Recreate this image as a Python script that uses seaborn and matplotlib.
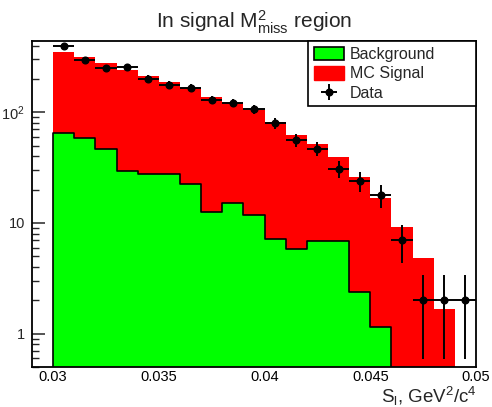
import numpy as np
import matplotlib
matplotlib.use("Agg")
import matplotlib.pyplot as plt
import seaborn as sns
from matplotlib.patches import Patch
from matplotlib.ticker import FixedLocator, FixedFormatter, LogLocator, NullFormatter

# ---- data ----
bin_edges = [0.030, 0.031, 0.032, 0.033, 0.034, 0.035, 0.036, 0.037, 0.038, 0.039, 0.040,
             0.041, 0.042, 0.043, 0.044, 0.045, 0.046, 0.047, 0.048, 0.049, 0.050]
bin_centers = [0.0305, 0.0315, 0.0325, 0.0335, 0.0345, 0.0355, 0.0365, 0.0375, 0.0385, 0.0395,
               0.0405, 0.0415, 0.0425, 0.0435, 0.0445, 0.0455, 0.0465, 0.0475, 0.0485, 0.0495]
# MC signal stacked on top of background (top of red histogram)
mc_signal_stacked = [347, 315, 278, 239, 211, 188, 167, 137, 121, 105,
                     81, 62, 51.5, 39.6, 25.8, 16.7, 9.1, 4.8, 1.67, 0]
background = [65.6, 58.7, 47, 29.6, 27.5, 27.8, 22.3, 12.6, 15, 11.7,
              7.2, 5.8, 6.9, 6.8, 2.4, 1.15, 0, 0, 0, 0]
data_counts = [393, 298, 251, 254, 201, 178, 167, 130, 122, 106,
               80, 56, 47, 31, 24, 18, 7, 2, 2, 2]
legend_labels = ["Background", "MC Signal", "Data"]
x_ticks = [0.03, 0.035, 0.04, 0.045, 0.05]
x_ticklabels = ["0.03", "0.035", "0.04", "0.045", "0.05"]
y_ticks = [1, 10, 100]
y_ticklabels = ["1", "10", "10$^\\mathregular{2}$"]

# ---- style ----
sns.set_style("white")
plt.rcParams["font.family"] = ["Liberation Sans", "DejaVu Sans"]
plt.rcParams["mathtext.fontset"] = "custom"
plt.rcParams["mathtext.rm"] = "Liberation Sans"
plt.rcParams["mathtext.it"] = "Liberation Sans:italic"
plt.rcParams["mathtext.bf"] = "Liberation Sans:bold"

fig = plt.figure(figsize=(4.92, 4.07), dpi=100)
ax = fig.add_axes([32 / 492, 1 - 367 / 407, 444 / 492, 326 / 407])

sns.histplot(x=bin_centers, weights=mc_signal_stacked, bins=bin_edges, element="step",
             fill=True, color="#ff0000", alpha=1, linewidth=0, ax=ax, zorder=1)
sns.histplot(x=bin_centers, weights=background, bins=bin_edges, element="step",
             fill=True, facecolor="#00ff00", edgecolor="black", alpha=1, linewidth=1.2,
             ax=ax, zorder=2)

yerr = np.sqrt(np.array(data_counts, dtype=float))
eb = ax.errorbar(bin_centers, data_counts, xerr=0.0005, yerr=yerr, fmt="o", color="black",
                 markersize=4.8, elinewidth=1.4, capsize=0, zorder=5)

ax.set_yscale("log")
ax.set_xlim(0.029, 0.050)
ax.set_ylim(0.5, 440)
ax.set_ylabel("")
ax.set_xlabel("")

ax.xaxis.set_major_locator(FixedLocator(x_ticks))
ax.xaxis.set_major_formatter(FixedFormatter(x_ticklabels))
ax.yaxis.set_major_locator(FixedLocator(y_ticks))
ax.yaxis.set_major_formatter(FixedFormatter(y_ticklabels))
ax.yaxis.set_minor_locator(LogLocator(base=10, subs=np.arange(2, 10) * 1.0))
ax.yaxis.set_minor_formatter(NullFormatter())

ax.tick_params(axis="x", which="both", length=0, labelsize=10.5, pad=2, colors="black")
ax.tick_params(axis="y", which="major", direction="in", length=9, width=1.1,
               labelsize=10.5, pad=5, left=True, right=False)
ax.tick_params(axis="y", which="minor", direction="in", length=5, width=1.0,
               left=True, right=False)

for sp in ax.spines.values():
    sp.set_color("black")
    sp.set_linewidth(1.3)
    sp.set_zorder(6)

ax.set_title("In signal M$^\\mathregular{2}_\\mathregular{miss}$ region", fontsize=15, pad=9)
fig.text(477 / 492, 1 - 403 / 407,
         "S$_\\mathregular{l}$, GeV$^\\mathregular{2}$/c$^\\mathregular{4}$",
         fontsize=13.5, ha="right", va="baseline")

handles = [Patch(facecolor="#00ff00", edgecolor="black", linewidth=1.2),
           Patch(facecolor="#ff0000", edgecolor="#ff0000"),
           eb]
leg = ax.legend(handles, legend_labels, loc="upper left",
                bbox_to_anchor=(276 / 444, 0.0, 168 / 444, 1.0), mode="expand",
                borderaxespad=0, fontsize=11.5, frameon=True, fancybox=False,
                edgecolor="black", framealpha=1, handlelength=1.9, handleheight=0.95,
                handletextpad=0.35, labelspacing=0.25, borderpad=0.35)
leg.get_frame().set_linewidth(1.2)
leg.set_zorder(10)

fig.savefig("out.png", dpi=100)
